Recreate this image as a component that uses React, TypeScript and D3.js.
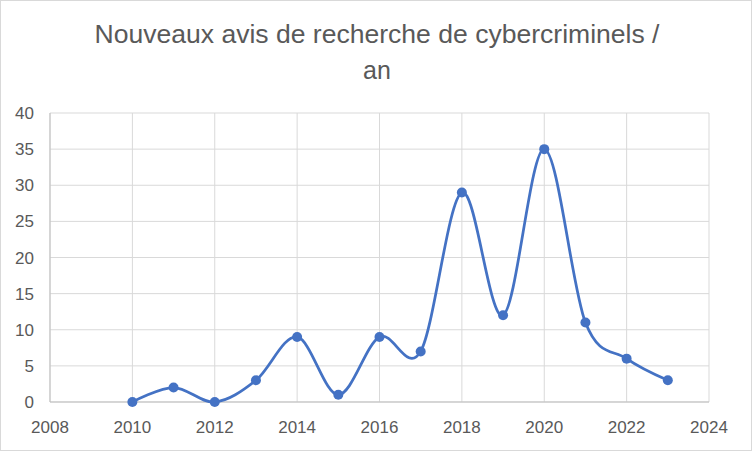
import * as d3 from "d3";

const years = [2010, 2011, 2012, 2013, 2014, 2015, 2016, 2017, 2018, 2019, 2020, 2021, 2022, 2023];
const counts = [0, 2, 0, 3, 9, 1, 9, 7, 29, 12, 35, 11, 6, 3];
const xTicks = [2008, 2010, 2012, 2014, 2016, 2018, 2020, 2022, 2024];
const yTicks = [0, 5, 10, 15, 20, 25, 30, 35, 40];
const titleLines = ["Nouveaux avis de recherche de cybercriminels /", "an"];

export default function App() {
  const w = 752,
    h = 451,
    m = { top: 113, right: 43, bottom: 49, left: 50 };

  const x = d3.scaleLinear().domain([2008, 2024]).range([m.left, w - m.right]);
  const y = d3.scaleLinear().domain([0, 40]).range([h - m.bottom, m.top]);

  const pts = years.map((yr, i) => [yr, counts[i]] as [number, number]);
  const line = d3
    .line<[number, number]>()
    .x((d) => x(d[0]))
    .y((d) => y(d[1]))
    .curve(d3.curveCardinal.tension(0));

  const font = "'Liberation Sans', Arial, sans-serif";
  const grey = "#595959";

  return (
    <>
      <style>{"body{margin:0}"}</style>
      <svg width={w} height={h} style={{ display: "block", fontFamily: font }}>
        <rect x={0.5} y={0.5} width={w - 1} height={h - 1} fill="#fff" stroke="#d9d9d9" />
        <text x={377} y={43} textAnchor="middle" fontSize={25} fill={grey} textLength={565} lengthAdjust="spacingAndGlyphs">
          {titleLines[0]}
        </text>
        <text x={377} y={79} textAnchor="middle" fontSize={25} fill={grey}>
          {titleLines[1]}
        </text>
        {/* grid */}
        {yTicks.map((v) => (
          <line key={"gy" + v} x1={m.left} x2={w - m.right} y1={y(v)} y2={y(v)} stroke="#d9d9d9" strokeWidth={1} />
        ))}
        {xTicks.map((v) => (
          <line key={"gx" + v} x1={x(v)} x2={x(v)} y1={m.top} y2={h - m.bottom} stroke="#d9d9d9" strokeWidth={1} />
        ))}
        {/* axes */}
        <line x1={m.left} x2={w - m.right} y1={y(0)} y2={y(0)} stroke="#bfbfbf" />
        <line x1={m.left} x2={m.left} y1={m.top} y2={y(0)} stroke="#bfbfbf" />
        {yTicks.map((v) => (
          <text key={"ty" + v} x={m.left - 16} y={y(v) + 6} textAnchor="end" fontSize={17} fill={grey}>
            {v}
          </text>
        ))}
        {xTicks.map((v) => (
          <text key={"tx" + v} x={x(v)} y={h - m.bottom + 31} textAnchor="middle" fontSize={17} fill={grey}>
            {v}
          </text>
        ))}
        <path d={line(pts) ?? ""} fill="none" stroke="#4472c4" strokeWidth={2.75} strokeLinecap="round" />
        {pts.map((d) => (
          <circle key={d[0]} cx={x(d[0])} cy={y(d[1])} r={5} fill="#4472c4" />
        ))}
      </svg>
    </>
  );
}
